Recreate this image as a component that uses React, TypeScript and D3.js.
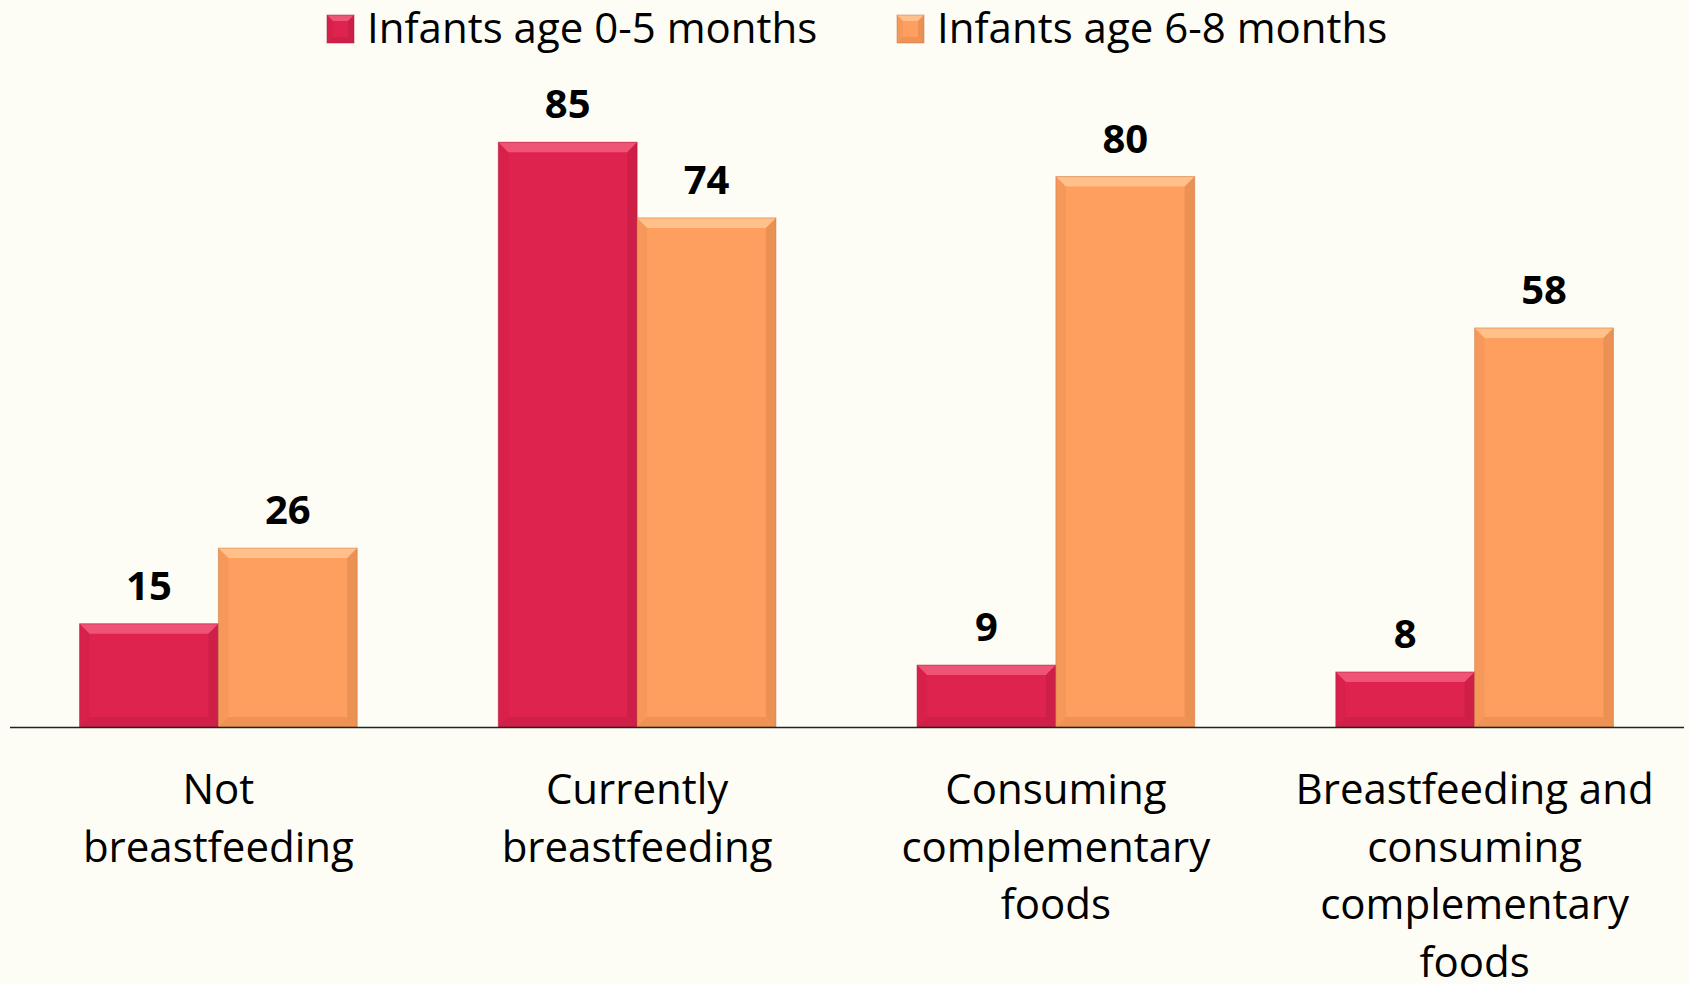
import React from 'react';
import { scaleBand, scaleLinear } from 'd3';

const categories = ['Not breastfeeding', 'Currently breastfeeding', 'Consuming complementary foods', 'Breastfeeding and consuming complementary foods'];
const categoryLines = [
  ['Not', 'breastfeeding'],
  ['Currently', 'breastfeeding'],
  ['Consuming', 'complementary', 'foods'],
  ['Breastfeeding and', 'consuming', 'complementary', 'foods'],
];
const seriesNames = ['Infants age 0-5 months', 'Infants age 6-8 months'];
const infants0to5 = [15, 85, 9, 8];
const infants6to8 = [26, 74, 80, 58];

const W = 1689;
const H = 984;
const FONT = '"Open Sans", sans-serif';

const colors = [
  { main: '#DE234E', light: '#F25C7E', dark: '#B01A3C' },
  { main: '#FE9E5F', light: '#FFC592', dark: '#C9773F' },
];

// rectangle with a small bevel on the edges
function Bevel({ x, y, w, h, c, b = 10 }) {
  const bb = Math.min(b, h / 2, w / 2);
  return (
    <g>
      <rect x={x} y={y} width={w} height={h} fill={c.main} />
      <polygon points={`${x},${y} ${x + w},${y} ${x + w - bb},${y + bb} ${x + bb},${y + bb}`} fill={c.light} opacity={0.85} />
      <polygon points={`${x},${y} ${x + bb},${y + bb} ${x + bb},${y + h - bb} ${x},${y + h}`} fill={c.dark} opacity={0.15} />
      <polygon points={`${x + w},${y} ${x + w - bb},${y + bb} ${x + w - bb},${y + h - bb} ${x + w},${y + h}`} fill={c.dark} opacity={0.35} />
      <polygon points={`${x},${y + h} ${x + bb},${y + h - bb} ${x + w - bb},${y + h - bb} ${x + w},${y + h}`} fill={c.dark} opacity={0.3} />
      <rect x={x} y={y} width={w} height={h} fill="none" stroke={c.dark} strokeOpacity={0.5} strokeWidth={1} />
    </g>
  );
}

export default function App() {
  const x = scaleBand().domain(categories).range([9, 1684]).padding(0);
  const step = x.bandwidth();
  const xInner = scaleBand().domain(seriesNames).range([step * 0.1685, step * 0.8315]);
  const y = scaleLinear().domain([0, 100]).range([727, 39]);
  const series = [infants0to5, infants6to8];
  const legendX = [327, 897];

  return (
    <svg width={W} height={H} style={{ position: 'absolute', left: 0, top: 0, background: '#FDFDF5' }} fontFamily={FONT}>
      <rect width={W} height={H} fill="#FDFDF5" />
      {seriesNames.map((name, si) => (
        <g key={name}>
          <Bevel x={legendX[si]} y={15} w={27} h={28} c={colors[si]} b={6} />
          <text x={legendX[si] + 40} y={43} fontSize={42}>{name}</text>
        </g>
      ))}
      {categories.map((cat, ci) => (
        <g key={cat}>
          {series.map((vals, si) => {
            const bx = x(cat) + xInner(seriesNames[si]);
            const bw = xInner.bandwidth();
            return (
              <g key={si}>
                <Bevel x={bx} y={y(vals[ci])} w={bw} h={y(0) - y(vals[ci])} c={colors[si]} />
                <text x={bx + bw / 2} y={y(vals[ci]) - 24} textAnchor="middle" fontWeight="bold" fontSize={40}>{vals[ci]}</text>
              </g>
            );
          })}
          {categoryLines[ci].map((line, li) => (
            <text key={li} x={x(cat) + step / 2} y={804 + li * 57.5} textAnchor="middle" fontSize={42}>{line}</text>
          ))}
        </g>
      ))}
      <line x1={10} x2={1684} y1={727.5} y2={727.5} stroke="#222" strokeWidth={1.5} />
    </svg>
  );
}
